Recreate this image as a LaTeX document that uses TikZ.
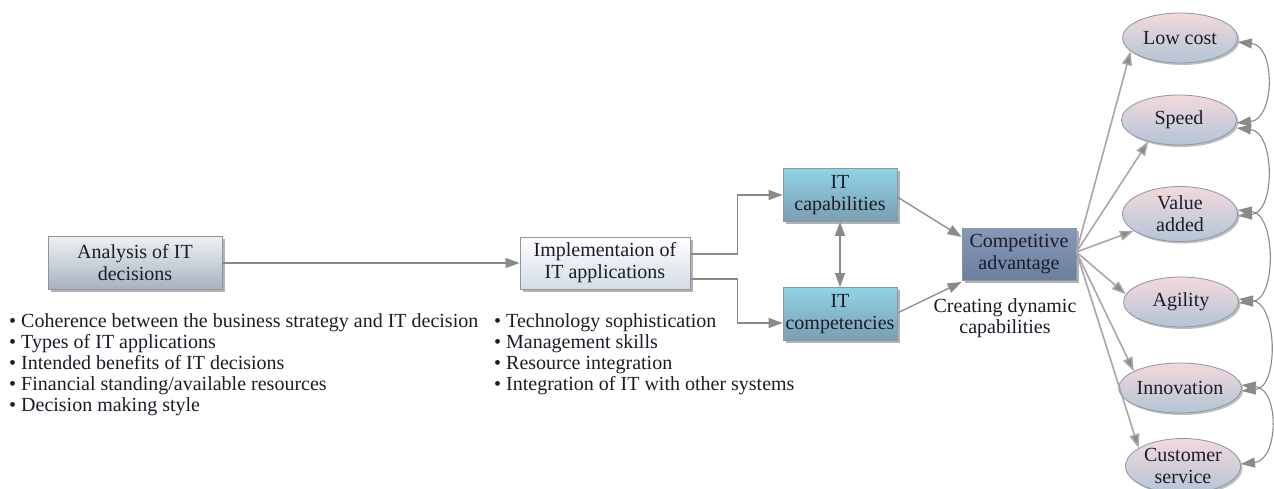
\documentclass[tikz,border=0pt]{standalone}
\usepackage{fontspec}
\setmainfont{Liberation Serif}
\usetikzlibrary{arrows.meta,shapes.geometric,shadows}
\definecolor{txt}{HTML}{1C1C28}
\definecolor{conn}{HTML}{8A8A8A}
\definecolor{fan}{HTML}{A8A8A8}
\definecolor{bordc}{HTML}{8C97A3}
\definecolor{greyb}{HTML}{A6B2BE}
\definecolor{greyt}{HTML}{EEF1F4}
\definecolor{impb}{HTML}{D3DCE7}
\definecolor{cyant}{HTML}{8FD4E6}
\definecolor{cyanb}{HTML}{7B9DB1}
\definecolor{compt}{HTML}{8698B9}
\definecolor{compb}{HTML}{6C809E}
\definecolor{ovtop}{HTML}{F3D9DC}
\definecolor{ovbot}{HTML}{B3C4D6}
\tikzset{
  box/.style={draw=bordc, line width=0.8pt, align=center, inner sep=0pt,
    text=txt, font=\fontsize{20}{22}\selectfont,
    drop shadow={shadow xshift=2.5pt, shadow yshift=-2.5pt, fill=black, opacity=0.3}},
  oval/.style={ellipse, draw=bordc, line width=0.8pt, align=center, inner sep=0pt,
    text=txt, font=\fontsize{20}{22}\selectfont,
    minimum width=115pt, minimum height=50pt,
    top color=ovtop, bottom color=ovbot,
    drop shadow={shadow xshift=2pt, shadow yshift=-2pt, fill=black, opacity=0.25}},
  conarrow/.style={draw=conn, line width=1.3pt, -{Triangle[length=14pt,width=10pt]}},
  fanarrow/.style={draw=fan, line width=1.6pt, -{Triangle[length=14pt,width=10pt,fill=conn]}},
  loopar/.style={draw=conn, line width=1.1pt, {Triangle[length=14pt,width=10pt]}-{Triangle[length=14pt,width=10pt]}},
  listtext/.style={align=left, anchor=north west, inner sep=0pt, text=txt,
    font=\fontsize{20}{21}\selectfont}
}
\begin{document}
\begin{tikzpicture}[x=1pt,y=-1pt]
\useasboundingbox[fill=white] (0,0) rectangle (1274,488);

% main boxes
\node[box, top color=greyt, bottom color=greyb, minimum width=174pt, minimum height=53pt] (ana) at (135,263) {Analysis of IT\\decisions};
\node[box, top color=white, bottom color=impb, minimum width=170pt, minimum height=52pt] (imp) at (605,263) {Implementaion of\\IT applications};
\node[box, top color=cyant, bottom color=cyanb, minimum width=114pt, minimum height=53pt] (cap) at (840,195) {IT\\capabilities};
\node[box, top color=cyant, bottom color=cyanb, minimum width=114pt, minimum height=53pt] (cmp) at (840,314) {IT\\competencies};
\node[box, top color=compt, bottom color=compb, minimum width=114pt, minimum height=52pt] (adv) at (1019,254) {Competitive\\advantage};

\node[align=center, inner sep=0pt, text=txt, font=\fontsize{20}{21}\selectfont] (dyn) at (1005,318) {Creating dynamic\\capabilities};

% outcome ellipses
\node[oval] (low) at (1180,38) {Low cost};
\node[oval] (spd) at (1179,120) {Speed};
\node[oval, minimum height=55pt] (val) at (1180,214) {Value\\added};
\node[oval] (agi) at (1181,302) {Agility};
\node[oval] (inn) at (1180,388) {Innovation};
\node[oval, minimum height=55pt] (cus) at (1183,466) {Customer\\service};

% bullet lists
\node[listtext] (l1) at (9,313) {• Coherence between the business strategy and IT decision\\• Types of IT applications\\• Intended benefits of IT decisions\\• Financial standing/available resources\\• Decision making style};
\node[listtext] (l2) at (494,313) {• Technology sophistication\\• Management skills\\• Resource integration\\• Integration of IT with other systems};

% connectors
\draw[conarrow] (ana) -- (imp);
\draw[conarrow] ([yshift=9pt]imp.east) -- ++(47,0) |- (cap.west);
\draw[conarrow] ([yshift=-16pt]imp.east) -- ++(47,0) |- ([yshift=-9pt]cmp.west);
\draw[draw=conn, line width=1.3pt, {Triangle[length=14pt,width=10pt]}-{Triangle[length=14pt,width=10pt]}] (cap) -- (cmp);
\draw[conarrow] ([yshift=-2pt]cap.east) -- ([yshift=17pt]adv.west);
\draw[conarrow] ([yshift=1pt]cmp.east) -- ([yshift=-28pt]adv.west);

% fan to ellipses
\draw[fanarrow] ([yshift=2pt]adv.east) -- (low.195);
\draw[fanarrow] ([yshift=2pt]adv.east) -- (spd.215);
\draw[fanarrow] ([yshift=2pt]adv.east) -- (val.200);
\draw[fanarrow] ([yshift=2pt]adv.east) -- (agi.172);
\draw[fanarrow] ([yshift=2pt]adv.east) -- (inn.160);
\draw[fanarrow] ([yshift=2pt]adv.east) -- (cus.158);

% loops on the right
\draw[loopar] ([yshift=-3pt]spd.east) .. controls +(38,-4) and +(38,4) .. ([yshift=-4pt]low.east);
\draw[loopar] ([yshift=-2pt]val.east) .. controls +(38,-4) and +(38,4) .. ([yshift=-8pt]spd.east);
\draw[loopar] ([yshift=-1pt]agi.east) .. controls +(38,-4) and +(38,4) .. ([yshift=4pt]val.east);
\draw[loopar] ([yshift=-3pt]inn.east) .. controls +(38,-4) and +(38,4) .. ([yshift=3pt]agi.east);
\draw[loopar] ([yshift=2pt]cus.east) .. controls +(38,-4) and +(38,4) .. ([yshift=3pt]inn.east);
\end{tikzpicture}
\end{document}
